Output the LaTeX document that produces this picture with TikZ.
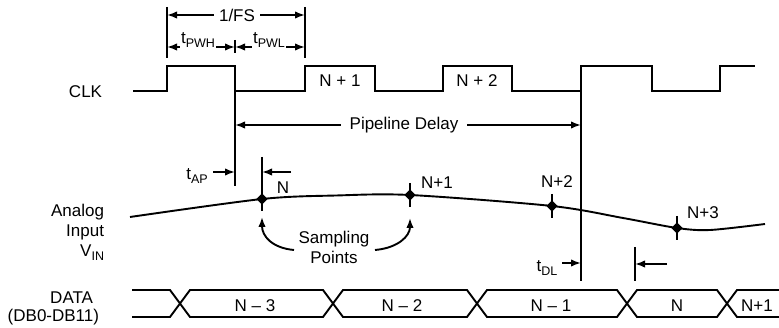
\documentclass[tikz,border=0pt]{standalone}
\usepackage{fontspec}
\setmainfont{Liberation Sans}
\usetikzlibrary{arrows.meta,shapes.geometric}
\newcommand{\lsub}[1]{\raisebox{-0.45ex}{\fontsize{12.5}{12.5}\selectfont #1}}
\begin{document}
\begin{tikzpicture}[x=1pt,y=-1pt, line width=1.9pt, font=\fontsize{17}{20}\selectfont,
  arr/.style={-{Latex[length=10pt,width=7.5pt]}},
  darr/.style={{Latex[length=10pt,width=7.5pt]}-{Latex[length=10pt,width=7.5pt]}},
  lbl/.style={inner sep=0pt},
  gap/.style={fill=white, inner sep=2pt},
  sdot/.style={diamond, fill=black, inner sep=0pt, minimum size=12pt}]
\useasboundingbox (0,0) rectangle (779,328);

% ---------- CLK ----------
\node[lbl, anchor=east] (clk) at (103,92) {CLK};
\draw[line join=miter] (133,91) -- (167,91) -- (167,66) -- (235,66) -- (235,91) -- (305,91) -- (305,66) -- (375,66) -- (375,91)
  -- (443,91) -- (443,66) -- (512,66) -- (512,91) -- (581,91) -- (581,66) -- (652,66) -- (652,91) -- (720,91) -- (720,66) -- (755,66);
\node[lbl] (n1) at (340,81) {N + 1};
\node[lbl] (n2) at (477,81) {N + 2};

% ---------- 1/FS, tPWH, tPWL ----------
\coordinate (fa1) at (167,7);  \coordinate (fa2) at (167,58);
\coordinate (fb1) at (305,7);  \coordinate (fb2) at (305,58);
\coordinate (fc1) at (235,40); \coordinate (fc2) at (235,53);
\draw (fa1) -- (fa2);
\draw (fb1) -- (fb2);
\draw (fc1) -- (fc2);
\coordinate (fsA) at (167,15); \coordinate (fsB) at (305,15);
\draw[darr] (fsA) -- (fsB);
\node[gap, inner sep=5pt] (fs) at (237,15) {1/FS};
\coordinate (pa) at (167,47); \coordinate (pm) at (235,47); \coordinate (pb) at (305,47);
\draw[darr] (pa) -- (pm);
\draw[darr] (pm) -- (pb);
\node[gap, inner sep=1pt] (pwh) at (198,40) {t\lsub{PWH}};
\node[gap, inner sep=1pt] (pwl) at (269,40) {t\lsub{PWL}};

% ---------- Pipeline delay ----------
\coordinate (v1t) at (235,91); \coordinate (v1b) at (235,186);
\coordinate (v2t) at (581,91); \coordinate (v2b) at (581,281);
\draw (v1t) -- (v1b);
\draw (v2t) -- (v2b);
\coordinate (pdA) at (235,125); \coordinate (pdB) at (581,125);
\draw[darr] (pdA) -- (pdB);
\node[gap, inner sep=9pt] (pd) at (404,125) {Pipeline Delay};

% ---------- tAP ----------
\node[lbl] (tap) at (197,176) {t\lsub{AP}};
\coordinate (tapA) at (213,172); \coordinate (tapB) at (235,172);
\draw[arr] (tapA) -- (tapB);
\coordinate (nt) at (262,157); \coordinate (nb) at (262,190);
\draw (nt) -- (nb);
\coordinate (naA) at (291,172); \coordinate (naB) at (262,172);
\draw[arr] (naA) -- (naB);

% ---------- Analog input ----------
\node[lbl, anchor=east, align=right] (ain) at (105,232) {Analog\\Input\\V\lsub{IN}};
\draw plot[smooth, tension=0.5] coordinates {(130,217) (262,199) (336,195.5) (410,195) (552,206) (623,218) (677,228) (710,230) (765,224)};

\foreach \n/\x/\y in {s0/262/199, s1/410/195, s2/552/206, s3/677/228} {
  \node[sdot] (\n) at (\x,\y) {};
  \draw (\x,\y-12) -- (\x,\y+12);
}
\node[lbl] (ln0) at (283,188) {N};
\node[lbl] (ln1) at (437,183) {N+1};
\node[lbl] (ln2) at (557,182) {N+2};
\node[lbl] (ln3) at (703,213) {N+3};

% Sampling points
\node[lbl, align=center] (sp) at (334,247) {Sampling\\Points};
\coordinate (spL) at (294,250); \coordinate (spR) at (375,250);
\coordinate (tipL) at (262,217); \coordinate (tipR) at (410,218);
\draw[arr] (spL) .. controls (272,248) and (262,236) .. (tipL);
\draw[arr] (spR) .. controls (398,248) and (410,236) .. (tipR);

% ---------- tDL ----------
\node[lbl] (tdl) at (547,268) {t\lsub{DL}};
\coordinate (tdlA) at (562,263); \coordinate (tdlB) at (581,263);
\draw[arr] (tdlA) -- (tdlB);
\coordinate (v3t) at (635,247); \coordinate (v3b) at (635,281);
\draw (v3t) -- (v3b);
\coordinate (daA) at (667,264); \coordinate (daB) at (635,264);
\draw[arr] (daA) -- (daB);

% ---------- DATA bus ----------
\node[lbl, anchor=east] (data) at (94,298) {DATA};
\node[lbl, anchor=east] (db) at (100,317) {(DB0-DB11)};
\draw[line join=miter] (132,290) -- (170,290) -- (190,317) -- (323,317) -- (343,290) -- (467,290) -- (487,317)
  -- (617,317) -- (637,290) -- (717,290) -- (737,317) -- (779,317);
\draw[line join=miter] (132,317) -- (170,317) -- (190,290) -- (323,290) -- (343,317) -- (467,317) -- (487,290)
  -- (617,290) -- (637,317) -- (717,317) -- (737,290) -- (779,290);
\node[lbl] (d1) at (255,306) {N – 3};
\node[lbl] (d2) at (402,306) {N – 2};
\node[lbl] (d3) at (551,306) {N – 1};
\node[lbl] (d4) at (677,306) {N};
\node[lbl] (d5) at (757,306) {N+1};
\end{tikzpicture}
\end{document}
